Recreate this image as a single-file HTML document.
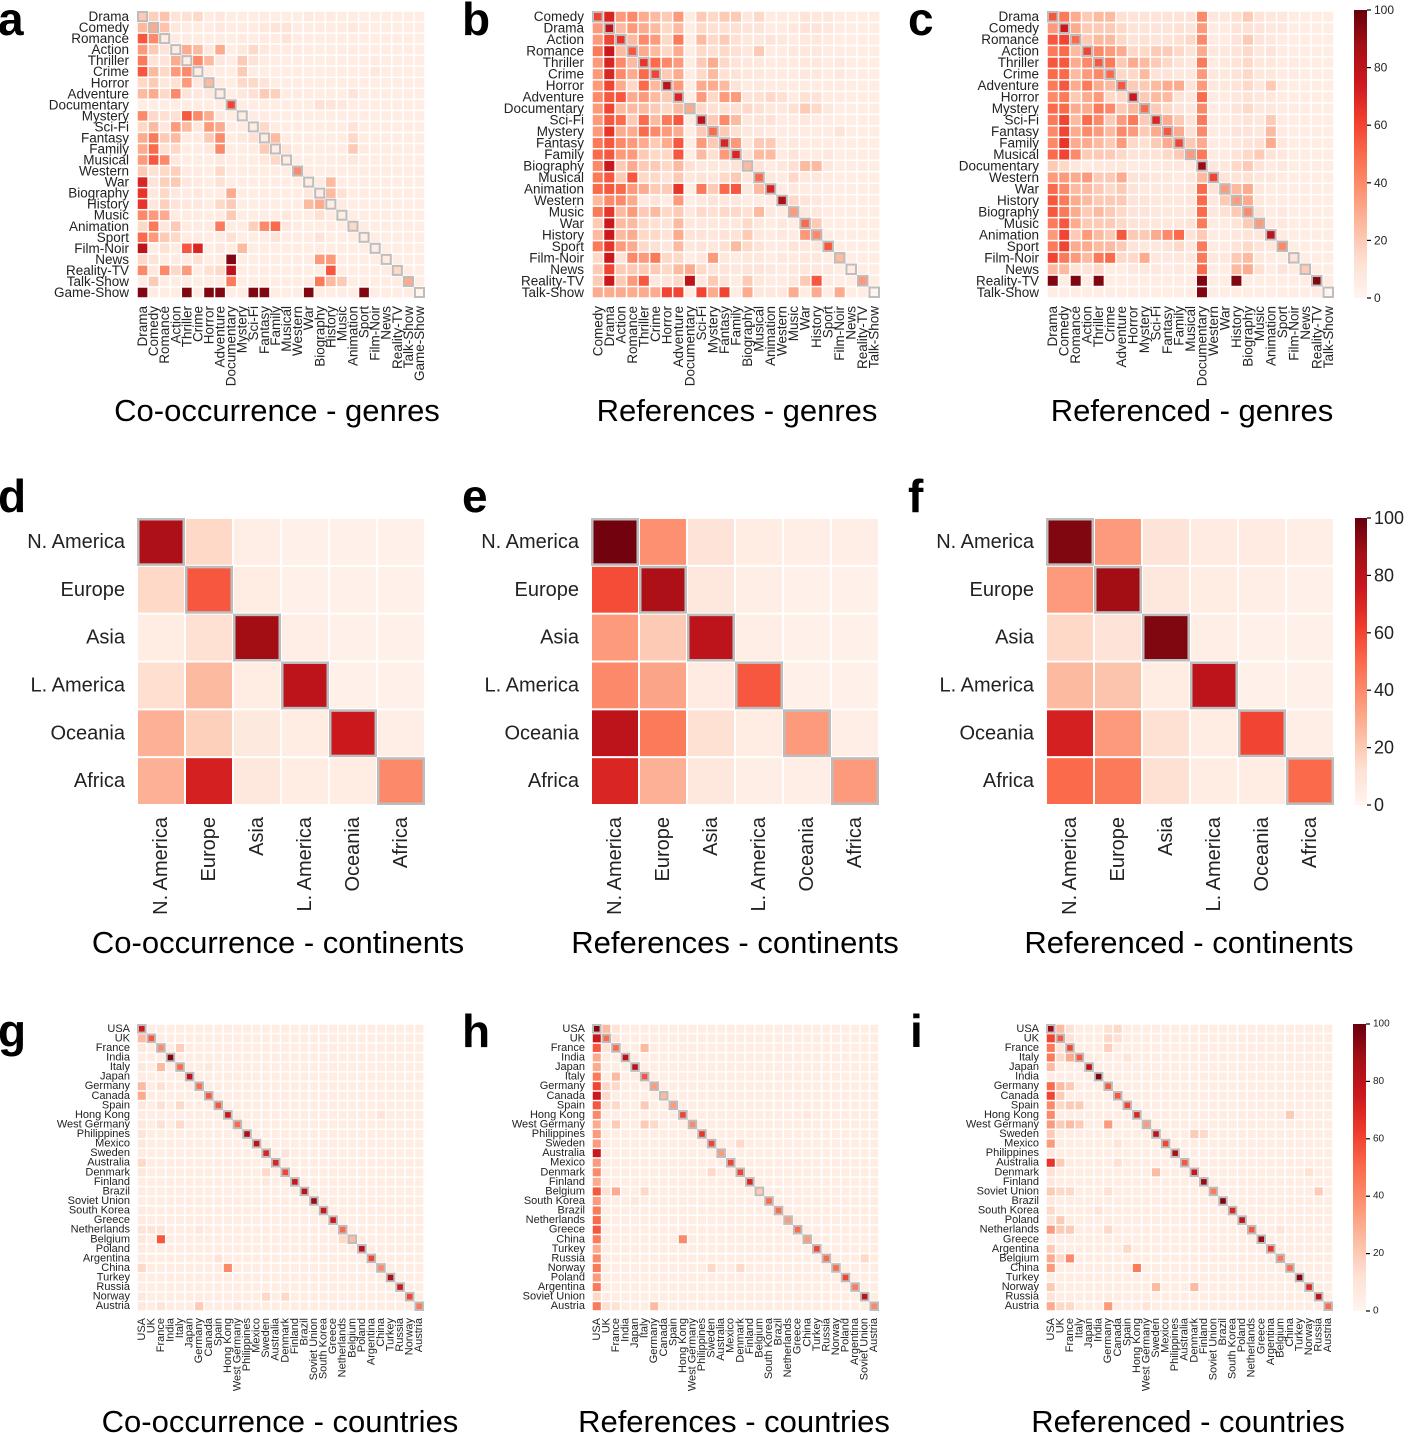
<!DOCTYPE html>
<html><head><meta charset="utf-8">
<style>
html,body{margin:0;padding:0;background:#fff;}
svg{display:block;font-family:"Liberation Sans",Arial,sans-serif;}
</style></head>
<body>
<svg id="fig" width="1415" height="1433" viewBox="0 0 1415 1433" xmlns="http://www.w3.org/2000/svg">
<g font-weight="bold" font-size="46" fill="#000">
<text x="-2" y="35">a</text>
<text x="462" y="35">b</text>
<text x="908" y="35">c</text>
<text x="-2" y="512">d</text>
<text x="462" y="512">e</text>
<text x="908" y="512">f</text>
<text x="-2" y="1047">g</text>
<text x="462" y="1047">h</text>
<text x="910" y="1047">i</text>
</g>
<g font-size="31" fill="#000" text-anchor="middle">
<text x="277" y="421">Co-occurrence - genres</text>
<text x="737" y="421">References - genres</text>
<text x="1192" y="421">Referenced - genres</text>
<text x="278" y="953">Co-occurrence - continents</text>
<text x="735" y="953">References - continents</text>
<text x="1189" y="953">Referenced - continents</text>
<text x="280" y="1432">Co-occurrence - countries</text>
<text x="734" y="1432">References - countries</text>
<text x="1188" y="1432">Referenced - countries</text>
</g>
</svg>
<script>
// ---------- data ----------
const genresA = ["Drama","Comedy","Romance","Action","Thriller","Crime","Horror","Adventure","Documentary","Mystery","Sci-Fi","Fantasy","Family","Musical","Western","War","Biography","History","Music","Animation","Sport","Film-Noir","News","Reality-TV","Talk-Show","Game-Show"];
const valuesA = [
[20,18,22,10,12,15,6,8,5,5,6,6,5,5,5,7,6,6,5,5,5,5,5,5,5,5],
[25,30,22,8,6,6,6,8,6,6,6,8,10,10,6,6,6,6,6,8,6,5,5,5,5,5],
[55,40,5,6,6,6,5,6,5,6,5,6,6,10,5,5,5,5,5,5,5,5,5,5,5,5],
[35,20,10,5,30,25,8,30,5,8,15,8,6,6,6,6,5,5,5,6,5,5,5,5,5,5],
[45,10,10,30,5,40,25,8,5,20,10,6,5,5,5,5,5,5,5,5,5,6,5,5,5,5],
[55,25,15,35,40,5,6,6,5,20,6,5,5,5,5,5,5,5,5,5,5,8,5,5,5,5],
[15,20,8,12,35,8,25,6,5,15,15,10,5,5,5,5,5,5,5,5,5,5,5,5,5,5],
[25,30,15,40,10,8,8,5,5,8,12,20,18,6,6,6,5,5,5,10,5,5,5,5,5,5],
[5,5,5,5,5,5,5,5,60,5,5,5,5,5,5,5,12,10,8,5,5,5,5,5,5,5],
[40,15,12,12,55,40,30,8,5,5,6,6,5,5,5,5,5,5,5,5,5,5,5,5,5,5],
[15,25,8,35,25,8,35,30,5,6,5,15,6,5,5,5,5,5,5,10,5,5,5,5,5,5],
[30,45,20,25,6,6,20,40,5,8,12,5,25,6,5,5,5,5,5,15,5,5,5,5,5,5],
[30,50,12,15,5,5,8,40,5,5,6,20,5,10,5,5,5,5,5,20,6,5,5,5,5,5],
[35,55,40,8,5,5,5,8,5,5,5,8,15,5,5,5,5,5,6,8,5,5,5,5,5,5],
[20,12,15,18,6,6,5,15,5,5,5,5,5,5,40,6,5,5,5,5,5,5,5,5,5,5],
[70,10,18,20,8,6,5,12,5,5,5,5,5,5,5,5,6,25,5,5,5,5,5,5,5,5],
[65,8,15,8,6,8,5,6,30,5,5,5,5,5,5,8,5,25,12,5,6,5,5,5,5,5],
[65,8,18,10,8,8,5,15,20,5,5,5,5,5,5,25,30,5,6,5,5,5,5,5,5,5],
[40,35,30,6,6,6,5,6,20,5,5,5,5,8,5,5,12,6,5,5,5,5,5,5,5,5],
[15,45,8,20,6,6,6,45,5,6,18,40,50,8,5,5,5,6,5,15,6,5,5,5,5,5],
[50,35,20,15,6,6,5,6,12,5,5,5,10,5,5,5,10,5,5,5,5,5,5,5,5,5],
[80,5,12,6,55,70,5,8,5,25,5,5,5,5,5,5,5,5,5,5,5,5,5,5,5,5],
[15,10,5,6,6,12,5,6,95,5,5,5,5,5,5,5,35,35,5,5,5,5,5,5,5,5],
[40,8,40,15,35,5,12,15,80,5,5,5,5,5,5,5,5,55,5,5,5,5,5,15,5,5],
[5,20,5,5,5,5,5,5,45,5,5,5,5,5,5,5,45,25,20,5,5,5,5,5,30,5],
[95,5,5,5,95,5,95,95,5,5,95,95,5,5,5,95,5,5,5,5,95,5,5,5,5,0]];

const genresB = ["Comedy","Drama","Action","Romance","Thriller","Crime","Horror","Adventure","Documentary","Sci-Fi","Mystery","Fantasy","Family","Biography","Musical","Animation","Western","Music","War","History","Sport","Film-Noir","News","Reality-TV","Talk-Show"];
const valuesB = [
[60,70,35,40,30,25,20,35,6,20,15,20,20,8,15,6,6,6,10,8,8,6,5,5,5],
[35,80,25,35,30,25,15,25,5,15,12,12,12,10,10,6,6,8,10,10,8,6,5,5,5],
[35,60,65,25,40,35,15,45,5,25,15,20,12,8,8,10,8,6,8,8,6,5,5,5,5],
[45,75,25,55,30,25,15,30,5,15,12,15,12,8,20,6,6,8,8,8,6,6,5,5,5],
[35,70,40,25,65,50,40,35,5,20,30,15,10,8,8,6,6,6,8,8,6,8,5,5,5],
[35,70,40,30,50,60,20,30,5,15,25,12,10,8,8,6,6,6,8,8,6,8,5,5,5],
[35,60,30,15,50,25,80,35,5,30,30,25,10,6,8,6,6,6,6,6,6,6,5,5,5],
[40,55,55,30,35,25,20,70,5,35,15,35,35,10,12,15,12,6,12,10,6,6,5,5,5],
[35,60,25,25,25,20,15,25,30,15,12,12,12,15,12,8,8,12,20,15,8,5,5,5,5],
[35,55,50,20,50,25,45,55,5,80,20,40,25,8,10,12,6,6,8,6,6,5,5,5,5],
[35,65,30,30,50,40,35,30,5,20,50,20,12,8,8,6,6,6,6,6,6,10,5,5,5],
[45,55,40,35,30,20,30,55,5,35,20,70,35,8,20,20,6,8,6,6,6,5,5,5,5],
[50,55,35,35,20,15,15,55,5,25,12,35,70,10,25,25,6,10,6,6,8,5,5,5,5],
[40,75,20,30,20,20,15,25,12,8,8,8,10,25,10,6,8,12,25,25,8,5,5,5,5],
[45,55,20,55,15,15,10,20,8,10,8,15,20,8,50,8,6,15,8,8,6,5,5,5,5],
[50,55,50,35,30,20,20,65,5,45,20,50,55,8,25,70,6,8,6,6,6,5,5,5,5],
[25,40,40,30,8,10,5,35,5,8,10,8,8,6,6,6,85,15,10,8,5,5,5,5,5],
[45,65,25,35,20,25,15,20,8,15,12,15,15,12,25,8,6,35,8,8,6,5,5,5,5],
[20,75,25,25,15,12,10,25,8,8,8,8,8,15,8,6,8,6,50,20,5,5,5,5,5],
[25,75,25,30,15,15,10,30,10,10,8,10,10,20,8,6,8,6,35,40,5,5,5,5,5],
[45,65,35,30,15,12,8,25,8,10,8,12,25,15,10,6,6,10,8,8,55,5,5,5,5],
[15,75,10,40,35,45,15,15,5,8,35,8,6,8,8,5,8,6,8,8,5,25,5,5,5],
[20,60,20,20,20,20,15,25,30,15,10,10,8,10,10,8,6,8,8,8,8,5,5,5,5],
[20,75,20,35,55,8,10,15,80,8,20,10,6,20,8,6,6,8,20,55,6,5,5,35,5],
[30,30,30,30,30,30,60,60,5,60,30,60,5,30,8,8,8,30,5,30,5,30,5,5,0]];

const genresC = ["Drama","Comedy","Romance","Action","Thriller","Crime","Adventure","Horror","Mystery","Sci-Fi","Fantasy","Family","Musical","Documentary","Western","War","History","Biography","Music","Animation","Sport","Film-Noir","News","Reality-TV","Talk-Show"];
const valuesC = [
[55,45,30,20,25,25,12,10,10,10,10,10,10,40,8,8,12,20,10,8,8,5,5,5,5],
[35,75,30,20,20,20,15,10,10,10,10,12,10,35,6,6,10,12,10,8,8,5,5,5,5],
[55,60,50,20,25,25,15,10,12,10,10,12,15,40,6,6,10,20,10,8,6,5,5,5,5],
[45,50,25,60,40,35,30,15,15,20,20,15,10,30,8,8,10,15,8,10,6,5,5,5,5],
[55,55,30,40,55,45,20,30,25,20,15,10,8,45,6,8,10,15,8,8,6,6,5,5,5],
[50,50,25,35,40,50,15,15,25,10,10,8,8,35,8,8,10,15,8,8,6,6,5,5,5],
[45,55,30,45,30,25,55,20,20,25,30,30,10,35,8,8,10,15,8,20,6,5,5,5,5],
[40,45,20,30,35,15,15,75,20,25,25,10,8,50,6,6,8,10,8,8,6,5,5,5,5],
[50,50,30,30,45,40,20,25,50,20,15,10,8,40,6,6,10,15,8,8,6,6,5,5,5],
[45,60,25,50,40,20,35,45,20,70,30,20,10,45,6,6,8,10,8,20,6,5,5,5,5],
[40,60,30,40,35,25,40,35,20,30,55,30,12,40,6,6,10,10,8,25,6,5,5,5,5],
[40,65,30,30,25,20,35,15,12,20,30,60,20,30,6,6,8,10,12,30,8,5,5,5,5],
[50,60,40,20,20,20,15,10,10,10,15,20,35,45,6,6,10,15,20,10,8,5,5,5,5],
[20,15,8,6,8,8,8,6,6,6,8,8,6,90,8,8,15,20,10,6,8,5,5,5,5],
[35,35,30,35,20,20,30,10,10,8,8,6,8,25,60,10,10,12,8,8,6,5,5,5,5],
[50,40,25,25,20,15,20,10,8,8,8,8,8,50,10,35,25,30,8,6,6,5,5,5,5],
[55,45,30,25,20,20,20,10,10,8,8,8,8,50,8,20,35,30,8,6,6,5,5,5,5],
[55,45,30,20,25,20,15,10,10,8,8,8,8,50,8,12,20,40,10,6,8,5,5,5,5],
[45,55,30,20,20,20,15,10,10,8,8,8,10,45,6,6,10,20,35,6,8,5,5,5,5],
[35,60,20,35,25,20,55,20,20,30,40,50,10,20,6,6,8,10,8,80,6,5,5,5,5],
[45,60,30,30,25,25,20,10,8,8,10,15,8,45,6,6,10,15,10,8,40,5,5,5,5],
[60,45,35,25,45,50,15,15,30,8,8,8,8,45,8,8,20,25,8,6,5,10,5,5,5],
[25,25,10,10,15,5,5,8,8,8,6,8,5,50,5,5,25,30,12,5,10,6,20,5,5],
[95,5,95,5,95,5,5,5,5,5,5,5,5,95,5,5,95,5,5,5,5,5,5,95,5],
[5,5,5,5,5,5,5,5,5,5,5,5,5,95,5,5,5,5,5,5,5,5,5,5,0]];

const continents = ["N. America","Europe","Asia","L. America","Oceania","Africa"];
const valuesD = [[85,15,4,3,3,3],[15,55,5,3,3,3],[5,12,88,4,3,3],[13,25,5,80,3,3],[28,18,7,5,75,4],[28,72,8,5,5,40]];
const valuesE = [[98,38,10,5,4,4],[58,85,8,4,3,3],[35,20,80,4,3,3],[40,32,6,55,3,3],[80,45,12,5,35,4],[70,28,8,4,4,35]];
const valuesF = [[95,35,10,6,6,4],[35,88,8,5,4,3],[15,10,95,4,3,3],[25,22,5,80,3,3],[72,35,12,5,60,4],[50,45,12,5,5,50]];

const countriesG = ["USA","UK","France","India","Italy","Japan","Germany","Canada","Spain","Hong Kong","West Germany","Philippines","Mexico","Sweden","Australia","Denmark","Finland","Brazil","Soviet Union","South Korea","Greece","Netherlands","Belgium","Poland","Argentina","China","Turkey","Russia","Norway","Austria"];
const diagG = [75,55,40,95,50,80,50,55,55,75,50,85,80,70,70,60,75,80,90,75,75,50,25,80,60,40,85,75,60,45];
const firstColG = [75,25,8,4,8,6,25,30,8,6,8,10,8,6,15,8,5,6,5,6,6,10,8,6,6,15,5,5,8,8];
const extraG = [[2,4,18],[4,2,25],[4,7,8],[6,2,12],[8,2,12],[8,4,15],[9,25,10],[10,2,12],[10,4,15],[13,15,10],[15,13,15],[16,13,8],[21,1,10],[21,2,10],[21,6,8],[22,2,55],[22,21,15],[24,8,10],[25,9,40],[28,13,15],[28,15,15],[29,6,20],[29,2,10],[29,10,8]];

const countriesH = ["USA","UK","France","India","Japan","Italy","Germany","Canada","Spain","Hong Kong","West Germany","Philippines","Sweden","Australia","Mexico","Denmark","Finland","Belgium","South Korea","Brazil","Netherlands","Greece","China","Turkey","Russia","Norway","Poland","Argentina","Soviet Union","Austria"];
const diagH = [95,50,50,80,80,55,35,25,35,60,40,65,60,35,60,60,70,20,50,50,35,50,35,60,50,50,60,45,80,40];
const firstColH = [95,75,55,30,30,45,60,75,55,40,30,35,35,75,35,40,30,55,35,45,50,55,45,30,40,45,35,45,15,45];
const extraH = [[0,1,25],[0,2,10],[1,2,10],[2,1,10],[2,5,25],[5,2,25],[6,1,15],[6,2,15],[7,1,15],[8,1,12],[8,2,15],[8,5,20],[10,2,20],[10,5,20],[10,6,15],[12,15,15],[15,12,15],[17,1,12],[17,2,30],[17,5,15],[18,4,8],[22,9,40],[24,28,15],[25,12,15],[25,15,15],[29,6,25],[29,1,12],[29,2,12],[9,22,8]];

const countriesI = ["USA","UK","France","Italy","Japan","India","Germany","Canada","Spain","Hong Kong","West Germany","Sweden","Mexico","Philippines","Australia","Denmark","Finland","Soviet Union","Brazil","South Korea","Poland","Netherlands","Greece","Argentina","Belgium","China","Turkey","Norway","Russia","Austria"];
const diagI = [90,55,60,55,80,95,55,55,60,70,35,80,60,85,55,75,90,45,95,70,80,55,90,65,45,50,95,70,80,50];
const firstColI = [90,60,45,45,25,6,50,60,40,40,35,20,35,8,65,12,8,20,8,15,10,35,6,20,30,35,5,20,10,30];
const extraI = [[0,1,25],[0,2,12],[0,6,12],[0,7,15],[1,2,12],[1,6,15],[1,7,12],[2,1,10],[2,6,18],[3,1,15],[3,2,30],[3,8,10],[6,1,25],[6,2,20],[7,1,20],[8,1,15],[8,2,20],[8,3,20],[9,25,20],[10,1,20],[10,2,25],[10,3,20],[10,6,35],[11,15,20],[11,16,15],[12,7,10],[14,1,20],[14,7,12],[15,11,25],[15,27,12],[17,1,15],[17,2,15],[17,6,12],[17,28,20],[19,5,10],[20,1,20],[21,1,20],[21,2,20],[21,6,15],[21,24,10],[23,8,15],[24,2,40],[24,1,15],[25,9,45],[27,11,25],[27,15,25],[29,1,15],[29,2,15],[29,6,35],[29,10,10]];

const cbTicks = [0,20,40,60,80,100];

// ---------- rendering ----------
const NS = "http://www.w3.org/2000/svg";
const svg = document.getElementById("fig");
const stops = [[0,[255,245,240]],[0.125,[254,224,210]],[0.25,[252,187,161]],[0.375,[252,146,114]],[0.5,[251,106,74]],[0.625,[239,59,44]],[0.75,[203,24,29]],[0.875,[165,15,21]],[1,[103,0,13]]];
function reds(v){
  let t = Math.max(0, Math.min(1, v/100));
  for (let i=1;i<stops.length;i++){
    if (t <= stops[i][0]){
      const a=stops[i-1], b=stops[i], f=(t-a[0])/(b[0]-a[0]);
      const c=a[1].map((x,k)=>Math.round(x+(b[1][k]-x)*f));
      return "rgb("+c.join(",")+")";
    }
  }
  return "rgb(103,0,13)";
}
function mk(tag, attrs, parent){
  const e=document.createElementNS(NS,tag);
  for (const k in attrs) e.setAttribute(k, attrs[k]);
  (parent||svg).appendChild(e);
  return e;
}
function sparseMatrix(n, diag, firstCol, extra, base){
  const m=[];
  for (let r=0;r<n;r++){ const row=[]; for(let c=0;c<n;c++) row.push(base); m.push(row); }
  for (let r=0;r<n;r++){ m[r][0]=firstCol[r]; m[r][r]=diag[r]; }
  extra.forEach(e=>{ m[e[0]][e[1]]=e[2]; });
  return m;
}
function heatmap(name, x0, y0, w, h, labels, matrix, fs, gap, diagW, labGap){
  const g = mk("g", {});
  
  
  const n = labels.length, cw = w/n, ch = h/n;
  const xs = c => x0 + c*cw, ys = r => y0 + r*ch;
  for (let r=0;r<n;r++){
    for (let c=0;c<n;c++){
      const rect = mk("rect", {x:xs(c)+gap/2, y:ys(r)+gap/2, width:cw-gap, height:ch-gap, fill:reds(matrix[r][c])}, g);
      
      
    }
  }
  for (let i=0;i<n;i++){
    const d = mk("rect", {x:xs(i)+diagW/2, y:ys(i)+diagW/2, width:cw-diagW, height:ch-diagW, fill:"none", stroke:"#bdbdbd", "stroke-width":diagW}, g);
    
    
  }
  labels.forEach((lab,i)=>{
    const t = mk("text", {x:x0-labGap, y:ys(i)+ch/2, "font-size":fs, "text-anchor":"end", "dominant-baseline":"central", fill:"#222"}, g);
    t.textContent = lab;
    
    
    const cx = xs(i)+cw/2, ty = y0+h+labGap;
    const t2 = mk("text", {x:cx, y:ty, "font-size":fs, "text-anchor":"end", "dominant-baseline":"central", fill:"#222", transform:"rotate(-90 "+cx+" "+ty+")"}, g);
    t2.textContent = lab;
    
    
  });
}
function colorbar(name, x, y, w, h, fs){
  const g = mk("g", {});
  
  
  const id = name+"-grad";
  const defs = mk("defs", {}, g);
  const lg = mk("linearGradient", {id:id, x1:0, y1:1, x2:0, y2:0}, defs);
  stops.forEach(s=>mk("stop", {offset:s[0], "stop-color":"rgb("+s[1].join(",")+")"}, lg));
  const r = mk("rect", {x:x, y:y, width:w, height:h, fill:"url(#"+id+")"}, g);
  
  
  const ysc = v => y + h - (v/100)*h;
  cbTicks.forEach(v=>{
    mk("line", {x1:x+w, x2:x+w+4, y1:ysc(v), y2:ysc(v), stroke:"#000", "stroke-width":1.2}, g);
    const t = mk("text", {x:x+w+7, y:ysc(v), "font-size":fs, "dominant-baseline":"central", fill:"#222"}, g);
    t.textContent = v;
    
    
  });
}
heatmap("heatmap-a-genres-cooccurrence", 137, 11, 288, 287, genresA, valuesA, 13.5, 1.5, 2, 8);
heatmap("heatmap-b-genres-references", 592, 11, 288, 287, genresB, valuesB, 13.5, 1.5, 2, 8);
heatmap("heatmap-c-genres-referenced", 1047, 11, 287, 287, genresC, valuesC, 13.5, 1.5, 2, 8);
colorbar("colorbar-genres", 1354, 10, 13, 288, 12);
heatmap("heatmap-d-continents-cooccurrence", 137, 518, 288, 287, continents, valuesD, 20, 2, 2.5, 12);
heatmap("heatmap-e-continents-references", 591, 518, 288, 287, continents, valuesE, 20, 2, 2.5, 12);
heatmap("heatmap-f-continents-referenced", 1046, 518, 288, 287, continents, valuesF, 20, 2, 2.5, 12);
colorbar("colorbar-continents", 1355, 518, 12, 287, 18);
heatmap("heatmap-g-countries-cooccurrence", 137, 1024, 287, 287, countriesG, sparseMatrix(30, diagG, firstColG, extraG, 5), 11, 1.5, 2, 7);
heatmap("heatmap-h-countries-references", 592, 1024, 287, 287, countriesH, sparseMatrix(30, diagH, firstColH, extraH, 5), 11, 1.5, 2, 7);
heatmap("heatmap-i-countries-referenced", 1046, 1024, 287, 287, countriesI, sparseMatrix(30, diagI, firstColI, extraI, 5), 11, 1.5, 2, 7);
colorbar("colorbar-countries", 1353, 1024, 13, 287, 10);
</script>
</body></html>
